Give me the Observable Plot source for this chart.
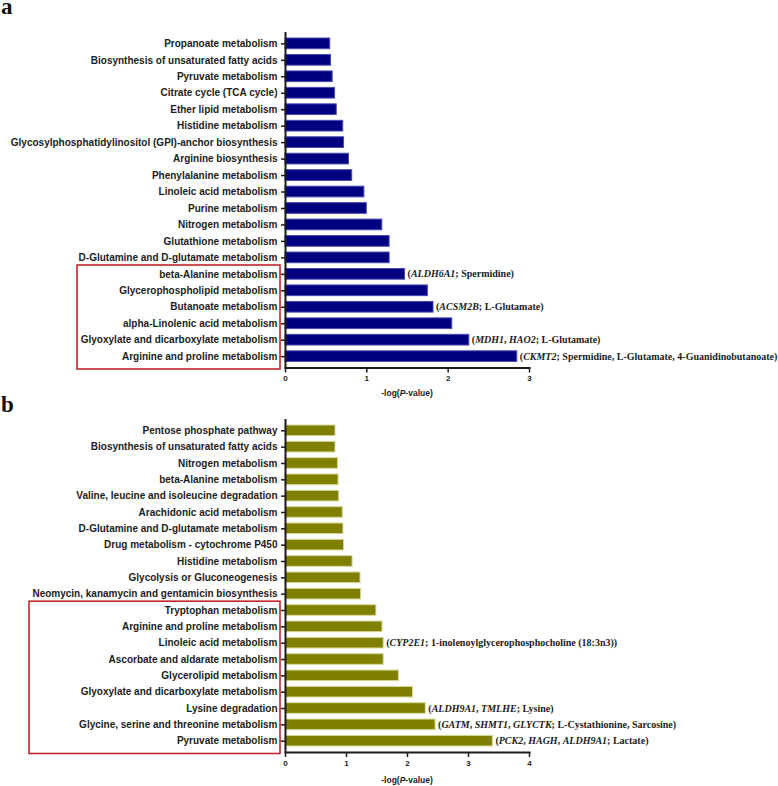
<!DOCTYPE html>
<html><head><meta charset="utf-8">
<script src="https://cdn.jsdelivr.net/npm/d3@7"></script>
<script src="https://cdn.jsdelivr.net/npm/@observablehq/plot@0.6"></script>
<style>
body{margin:0;background:#fff;}
#wrap{width:778px;height:786px;overflow:hidden;}
svg{display:block;}
</style></head><body>
<div id="wrap"><div id="pa"></div><div id="pb"></div></div>
<script>
// ---------- Panel a data ----------
const catsA = [
  "Propanoate metabolism",
  "Biosynthesis of unsaturated fatty acids",
  "Pyruvate metabolism",
  "Citrate cycle (TCA cycle)",
  "Ether lipid metabolism",
  "Histidine metabolism",
  "Glycosylphosphatidylinositol (GPI)-anchor biosynthesis",
  "Arginine biosynthesis",
  "Phenylalanine metabolism",
  "Linoleic acid metabolism",
  "Purine metabolism",
  "Nitrogen metabolism",
  "Glutathione metabolism",
  "D-Glutamine and D-glutamate metabolism",
  "beta-Alanine metabolism",
  "Glycerophospholipid metabolism",
  "Butanoate metabolism",
  "alpha-Linolenic acid metabolism",
  "Glyoxylate and dicarboxylate metabolism",
  "Arginine and proline metabolism"
];
const valsA = [0.55, 0.56, 0.58, 0.61, 0.63, 0.71, 0.72, 0.78, 0.82, 0.97,
               1.00, 1.19, 1.28, 1.28, 1.47, 1.75, 1.82, 2.05, 2.26, 2.85];
const annCatsA = ["beta-Alanine metabolism", "Butanoate metabolism",
                  "Glyoxylate and dicarboxylate metabolism", "Arginine and proline metabolism"];
const annGenesA = [["ALDH6A1"], ["ACSM2B"], ["MDH1", "HAO2"], ["CKMT2"]];
const annMetsA = ["Spermidine", "L-Glutamate", "L-Glutamate",
                  "Spermidine, L-Glutamate, 4-Guanidinobutanoate"];
const boxCatsA = ["beta-Alanine metabolism", "Arginine and proline metabolism"];
const ticksA = [0, 1, 2, 3];

// ---------- Panel b data ----------
const catsB = [
  "Pentose phosphate pathway",
  "Biosynthesis of unsaturated fatty acids",
  "Nitrogen metabolism",
  "beta-Alanine metabolism",
  "Valine, leucine and isoleucine degradation",
  "Arachidonic acid metabolism",
  "D-Glutamine and D-glutamate metabolism",
  "Drug metabolism - cytochrome P450",
  "Histidine metabolism",
  "Glycolysis or Gluconeogenesis",
  "Neomycin, kanamycin and gentamicin biosynthesis",
  "Tryptophan metabolism",
  "Arginine and proline metabolism",
  "Linoleic acid metabolism",
  "Ascorbate and aldarate metabolism",
  "Glycerolipid metabolism",
  "Glyoxylate and dicarboxylate metabolism",
  "Lysine degradation",
  "Glycine, serine and threonine metabolism",
  "Pyruvate metabolism"
];
const valsB = [0.82, 0.82, 0.86, 0.87, 0.88, 0.94, 0.95, 0.96, 1.10, 1.23,
               1.24, 1.49, 1.59, 1.61, 1.61, 1.86, 2.09, 2.30, 2.46, 3.40];
const annCatsB = ["Linoleic acid metabolism", "Lysine degradation",
                  "Glycine, serine and threonine metabolism", "Pyruvate metabolism"];
const annGenesB = [["CYP2E1"], ["ALDH9A1", "TMLHE"], ["GATM", "SHMT1", "GLYCTK"], ["PCK2", "HAGH", "ALDH9A1"]];
const annMetsB = ["1-inolenoylglycerophosphocholine (18:3n3)", "Lysine",
                  "L-Cystathionine, Sarcosine", "Lactate"];
const boxCatsB = ["Tryptophan metabolism", "Pyruvate metabolism"];
const ticksB = [0, 1, 2, 3, 4];

const INK = "#1c1c1c";
const BOXRED = "#c0262c";

function panel(o) {
  const data = o.cats.map((c, i) => ({cat: c, v: o.vals[i]}));
  const ann = o.annCats.map((c, i) => ({cat: c, v: o.vals[o.cats.indexOf(c)], genes: o.annGenes[i], mets: o.annMets[i]}));

  const annotations = (index, {x, y}) => {
    const bw = y.bandwidth ? y.bandwidth() : 0;
    const g = d3.create("svg:g")
      .attr("font-family", "'Liberation Serif','Times New Roman',serif")
      .attr("text-anchor", "start")
      .attr("font-size", 10).attr("font-weight", "bold").attr("fill", INK);
    for (const a of ann) {
      const t = g.append("text").attr("x", x(a.v) + 3).attr("y", y(a.cat) + bw / 2).attr("dy", "0.35em");
      t.append("tspan").text("(");
      a.genes.forEach((gn, i) => {
        if (i) t.append("tspan").text(", ");
        t.append("tspan").attr("font-style", "italic").text(gn);
      });
      t.append("tspan").text("; " + a.mets + ")");
    }
    return g.node();
  };

  const box = (index, {y}, values, dims) => {
    const top = y(o.boxCats[0]) - 3.5;
    const bottom = dims.height - dims.marginBottom + 1.5;
    const right = dims.marginLeft - 5;
    return d3.create("svg:rect")
      .attr("x", o.boxLeft).attr("y", top)
      .attr("width", right - o.boxLeft).attr("height", bottom - top)
      .attr("fill", "none").attr("stroke", BOXRED).attr("stroke-width", 1.6).node();
  };

  const title = (index, scales, values, dims) => {
    const cx = (dims.marginLeft + dims.width - dims.marginRight) / 2;
    const t = d3.create("svg:text")
      .attr("x", cx).attr("y", dims.height - dims.marginBottom + o.titleGap)
      .attr("text-anchor", "middle").attr("font-size", 8.5).attr("font-weight", "bold")
      .attr("font-family", "'Liberation Sans',Arial,sans-serif").attr("fill", INK);
    t.append("tspan").text("-log(");
    t.append("tspan").attr("font-style", "italic").text("P");
    t.append("tspan").text("-value)");
    return t.node();
  };

  const letter = () => d3.create("svg:text")
      .attr("x", 1).attr("y", o.letterY)
      .attr("text-anchor", "start")
      .attr("font-family", "'Liberation Serif','Times New Roman',serif")
      .attr("font-size", 23).attr("font-weight", "bold").attr("fill", "#111")
      .text(o.letter).node();

  return Plot.plot({
    width: 778, height: o.height,
    marginLeft: 285, marginRight: 249, marginTop: o.marginTop, marginBottom: o.marginBottom,
    style: {fontFamily: "'Liberation Sans',Arial,sans-serif", fontWeight: "bold", color: INK, background: "white", overflow: "visible"},
    x: {domain: [0, o.xMax]},
    y: {domain: o.cats, paddingInner: 0.35, paddingOuter: 0, insetTop: 6, insetBottom: 6, round: false},
    marks: [
      Plot.barX(data, {x: "v", y: "cat", fill: o.fill, stroke: o.stroke, strokeWidth: 1}),
      Plot.axisY({tickSize: 4, tickPadding: 4, fontSize: 10, fontWeight: "bold", label: null, strokeWidth: 1.5}),
      Plot.axisX({ticks: o.ticks, tickFormat: "d", tickSize: 5, tickPadding: 2.5, fontSize: 8, fontWeight: "bold", label: null, strokeWidth: 1.5}),
      Plot.ruleX([0], {stroke: INK, strokeWidth: 2}),
      Plot.frame({anchor: "bottom", stroke: INK, strokeWidth: 2}),
      annotations, box, title, letter
    ]
  });
}

document.getElementById("pa").append(panel({
  cats: catsA, vals: valsA, xMax: 3, ticks: ticksA,
  annCats: annCatsA, annGenes: annGenesA, annMets: annMetsA, boxCats: boxCatsA,
  fill: "#000080", stroke: "#4b4bb0",
  height: 398, marginTop: 32, marginBottom: 30.5, boxLeft: 77, titleGap: 28.5,
  letter: "a", letterY: 14
}));
document.getElementById("pb").append(panel({
  cats: catsB, vals: valsB, xMax: 4, ticks: ticksB,
  annCats: annCatsB, annGenes: annGenesB, annMets: annMetsB, boxCats: boxCatsB,
  fill: "#808000", stroke: "#d9d99a",
  height: 388, marginTop: 21, marginBottom: 34, boxLeft: 29, titleGap: 31,
  letter: "b", letterY: 14
}));
</script>
</body></html>
